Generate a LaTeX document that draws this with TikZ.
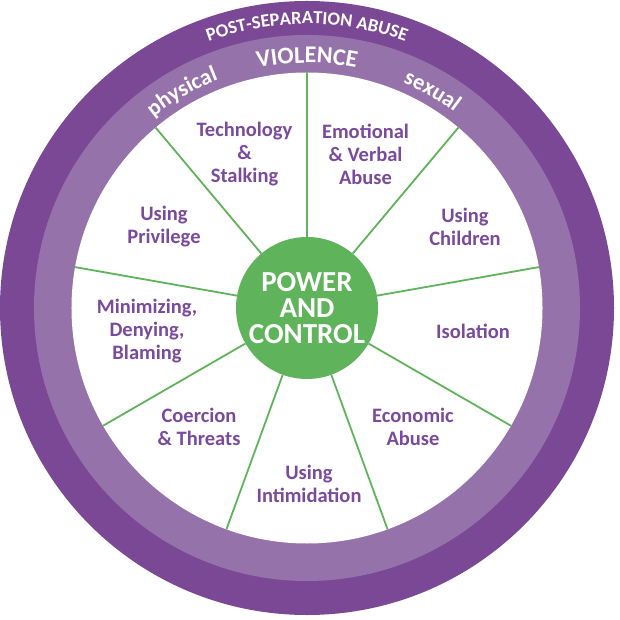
\documentclass[tikz,border=0pt]{standalone}
\usepackage{fontspec}
\setmainfont{Carlito}
\usetikzlibrary{decorations.text}
\definecolor{darkp}{HTML}{7B4895}
\definecolor{lightp}{HTML}{9672AB}
\definecolor{txtp}{HTML}{7A4A9C}
\definecolor{grn}{HTML}{5FB35A}
\begin{document}
\begin{tikzpicture}[x=1pt,y=1pt,
  lbl/.style={text=txtp, font=\fontsize{20.5}{23}\selectfont\bfseries, align=center, inner sep=0},
  spoke/.style={draw=grn, line width=1.8pt},
  ringtext/.style={decorate, color=white}]
\useasboundingbox (-307,-312) rectangle (313,308);
\fill[darkp] (0,0) circle[radius=307];
\fill[lightp] (0,0) circle[radius=273];
\fill[white] (0,0) circle[radius=235.5];
\node[circle, fill=grn, minimum size=142pt, inner sep=0, text=white, align=center,
  font=\fontsize{29}{26}\selectfont\bfseries] (pc) at (0,0) {POWER\\AND\\CONTROL};
\foreach \a [count=\i] in {90,50,10,-30,-70,-110,-150,170,130} {
  \coordinate (r\i) at (\a:235.5);
  \draw[spoke] (pc.\a) -- (r\i);
}
\path[ringtext, decoration={text along path, text align=center,
  text={|\fontsize{18.5}{18.5}\selectfont\bfseries\color{white}|POST-SEPARATION ABUSE}}]
  (160:284) arc[start angle=160, end angle=20, radius=284];
\path[ringtext, decoration={text along path, text align=center,
  text={|\fontsize{24}{24}\selectfont\bfseries\color{white}|VIOLENCE}}]
  (150:245) arc[start angle=150, end angle=30, radius=245];
\path[ringtext, decoration={text along path, text align=center,
  text={|\fontsize{22.5}{22.5}\selectfont\bfseries\color{white}|physical}}]
  (150:245) arc[start angle=150, end angle=90, radius=245];
\path[ringtext, decoration={text along path, text align=center,
  text={|\fontsize{22.5}{22.5}\selectfont\bfseries\color{white}|sexual}}]
  (90:245) arc[start angle=90, end angle=30, radius=245];
\node[lbl] (l1) at (-62.5,154) {Technology\\\&\\Stalking};
\node[lbl] (l2) at (58.5,154) {Emotional\\\& Verbal\\Abuse};
\node[lbl] (l3) at (158,81.5) {Using\\Children};
\node[lbl] (l4) at (166,-23) {Isolation};
\node[lbl] (l5) at (106,-119) {Economic\\Abuse};
\node[lbl] (l6) at (2,-176) {Using\\Intimidation};
\node[lbl] (l7) at (-108,-119) {Coercion\\\& Threats};
\node[lbl] (l8) at (-160,-23) {Minimizing,\\Denying,\\Blaming};
\node[lbl] (l9) at (-143,81.5) {Using\\Privilege};
\end{tikzpicture}
\end{document}
